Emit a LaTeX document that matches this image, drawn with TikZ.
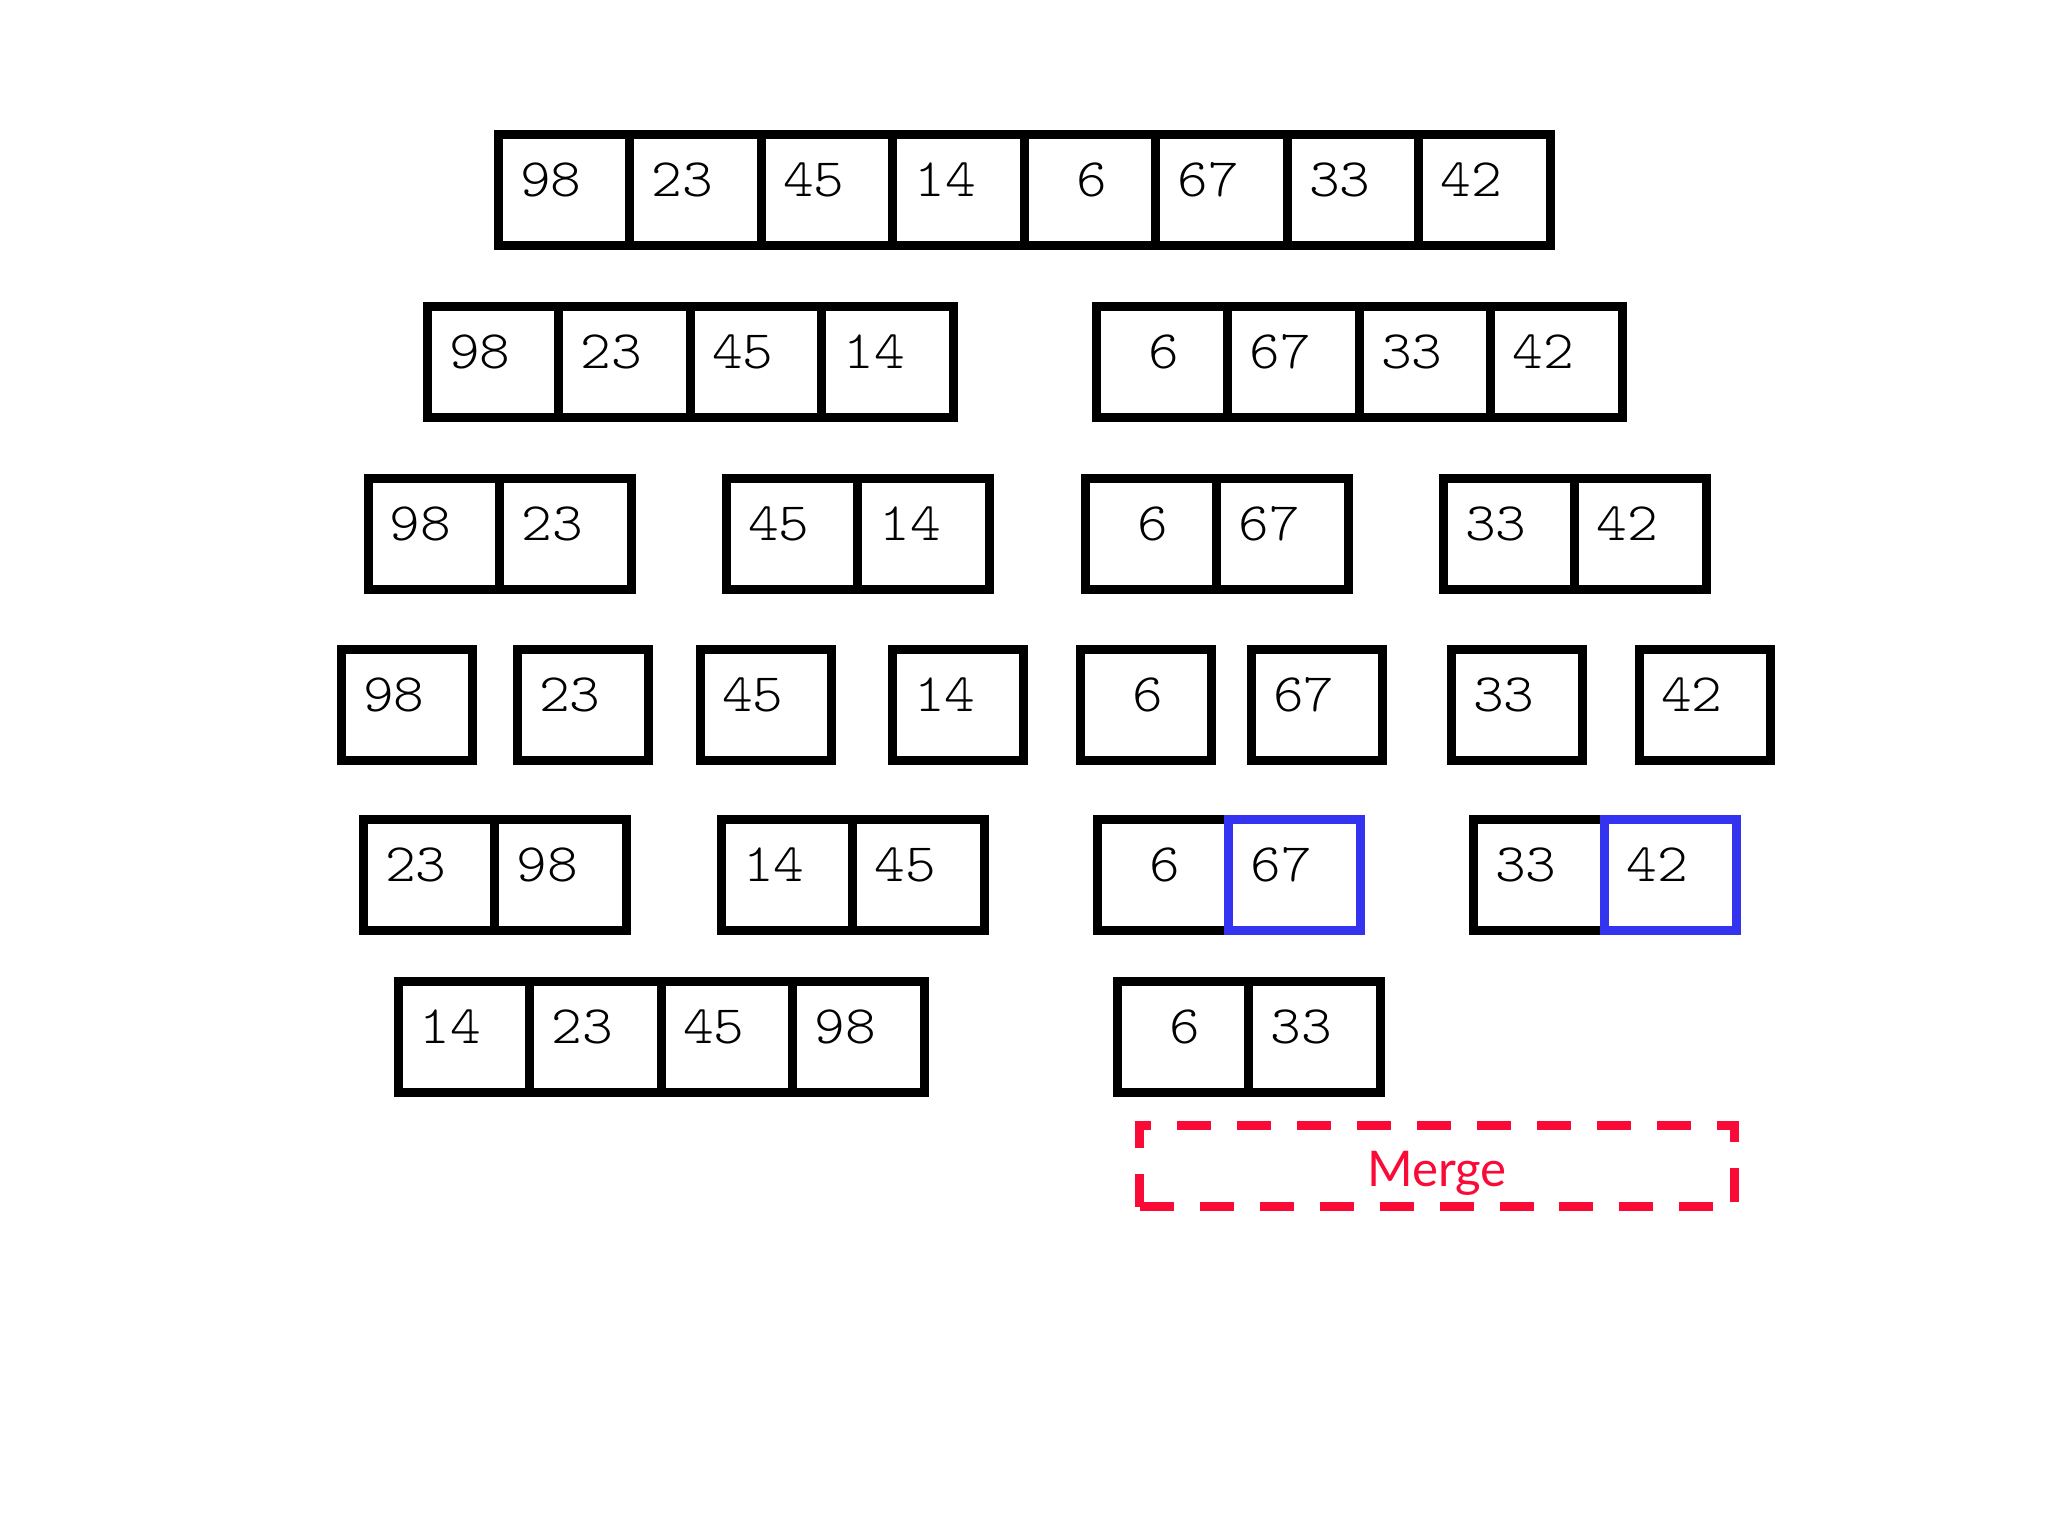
\documentclass[tikz,border=0pt]{standalone}
\usepackage{fontspec}
\usepackage{xcolor}
\usetikzlibrary{positioning}
\newfontfamily\cellfont[FakeStretch=1.08]{Latin Modern Mono Light}
\newfontfamily\labelfont{Lato}
\definecolor{mergered}{RGB}{250,10,55}
\definecolor{pickblue}{RGB}{51,51,240}

\begin{document}
\begin{tikzpicture}[
    cell/.style={draw, line width=0.094cm, minimum width=1.315cm, minimum height=1.11cm,
        inner sep=0pt, outer sep=0pt, text width=0.88cm, align=left,
        text height=0.45cm, text depth=0.322cm, font=\cellfont\fontsize{15.4}{18}\selectfont},
    picked/.style={cell, draw=pickblue},
    mergebox/.style={draw=mergered, line width=0.083cm, dash pattern=on 0.34cm off 0.26cm,
        minimum width=5.95cm, minimum height=0.81cm, inner sep=0pt,
        text height=0.41cm, text depth=0cm, text=mergered, font=\labelfont\fontsize{14}{16}\selectfont}
]
\useasboundingbox (0,0) rectangle (20.48,-15.36);

% Row 1
\node[cell] (a1) at (5.64,-1.90) {98};
\node[cell, right=0pt of a1] (a2) {23};
\node[cell, right=0pt of a2] (a3) {45};
\node[cell, right=0pt of a3] (a4) {14};
\node[cell, right=0pt of a4] (a5) {\phantom{0}6};
\node[cell, right=0pt of a5] (a6) {67};
\node[cell, right=0pt of a6] (a7) {33};
\node[cell, right=0pt of a7] (a8) {42};

% Row 2
\node[cell] (b1) at (4.93,-3.62) {98};
\node[cell, right=0pt of b1] (b2) {23};
\node[cell, right=0pt of b2] (b3) {45};
\node[cell, right=0pt of b3] (b4) {14};
\node[cell] (b5) at (11.62,-3.62) {\phantom{0}6};
\node[cell, right=0pt of b5] (b6) {67};
\node[cell, right=0pt of b6] (b7) {33};
\node[cell, right=0pt of b7] (b8) {42};

% Row 3
\node[cell] (c1) at (4.34,-5.34) {98};
\node[cell, right=0pt of c1] (c2) {23};
\node[cell] (c3) at (7.92,-5.34) {45};
\node[cell, right=0pt of c3] (c4) {14};
\node[cell] (c5) at (11.51,-5.34) {\phantom{0}6};
\node[cell, right=0pt of c5] (c6) {67};
\node[cell] (c7) at (15.09,-5.34) {33};
\node[cell, right=0pt of c7] (c8) {42};

% Row 4
\node[cell] (d1) at (4.07,-7.05) {98};
\node[cell] (d2) at (5.83,-7.05) {23};
\node[cell] (d3) at (7.66,-7.05) {45};
\node[cell] (d4) at (9.58,-7.05) {14};
\node[cell] (d5) at (11.46,-7.05) {\phantom{0}6};
\node[cell] (d6) at (13.17,-7.05) {67};
\node[cell] (d7) at (15.17,-7.05) {33};
\node[cell] (d8) at (17.05,-7.05) {42};

% Row 5
\node[cell] (e1) at (4.29,-8.75) {23};
\node[cell, right=0pt of e1] (e2) {98};
\node[cell] (e3) at (7.87,-8.75) {14};
\node[cell, right=0pt of e3] (e4) {45};
\node[cell] (e5) at (11.63,-8.75) {\phantom{0}6};
\node[picked, right=0pt of e5] (e6) {67};
\node[cell] (e7) at (15.39,-8.75) {33};
\node[picked, right=0pt of e7] (e8) {42};

% Row 6
\node[cell] (f1) at (4.64,-10.37) {14};
\node[cell, right=0pt of f1] (f2) {23};
\node[cell, right=0pt of f2] (f3) {45};
\node[cell, right=0pt of f3] (f4) {98};
\node[cell] (f5) at (11.83,-10.37) {\phantom{0}6};
\node[cell, right=0pt of f5] (f6) {33};

% Step label
\node[mergebox] (merge) at (14.37,-11.66) {Merge};

\end{tikzpicture}
\end{document}
